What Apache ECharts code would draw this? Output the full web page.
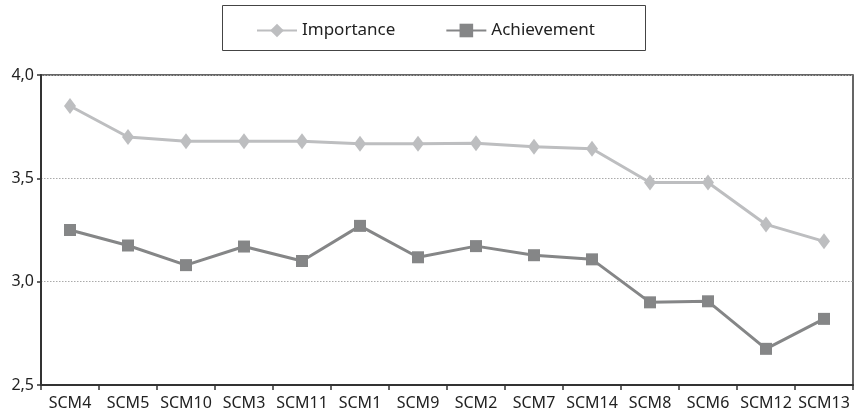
<!DOCTYPE html>
<html>
<head>
<meta charset="utf-8">
<script src="https://cdn.jsdelivr.net/npm/echarts@6/dist/echarts.min.js"></script>
<style>html,body{margin:0;padding:0;background:#fff}#c{width:859px;height:420px}</style>
</head>
<body>
<div id="c"></div>
<script>
const categories = ["SCM4","SCM5","SCM10","SCM3","SCM11","SCM1","SCM9","SCM2","SCM7","SCM14","SCM8","SCM6","SCM12","SCM13"];
const importance = [3.85,3.70,3.68,3.68,3.68,3.667,3.667,3.67,3.653,3.643,3.48,3.48,3.277,3.195];
const achievement = [3.25,3.175,3.08,3.17,3.10,3.27,3.118,3.172,3.128,3.108,2.90,2.905,2.675,2.82];
const yTicks = {min: 2.5, max: 4.0, interval: 0.5};

const chart = echarts.init(document.getElementById('c'), null, {renderer: 'canvas'});
const font = '"Noto Sans", "Open Sans", sans-serif';
chart.setOption({
  animation: false,
  textStyle: {fontFamily: font},
  graphic: [{
    type: 'rect', left: 222, top: 5, z: -1,
    shape: {width: 423, height: 45},
    style: {fill: '#fff', stroke: '#444', lineWidth: 1}
  }],
  legend: {
    left: 251, top: 17,
    itemWidth: 40, itemHeight: 17, itemGap: 50,
    textStyle: {fontFamily: font, fontSize: 17, color: '#222', padding: [0,0,0,0]},
    data: ['Importance', 'Achievement']
  },
  grid: {left: 41, right: 6, top: 75, bottom: 35, show: true, borderColor: '#333', borderWidth: 1.5, backgroundColor: 'transparent'},
  xAxis: {
    type: 'category', data: categories, boundaryGap: true,
    axisLine: {lineStyle: {color: '#333', width: 2}},
    axisTick: {show: true, alignWithLabel: false, length: 5, lineStyle: {color: '#333', width: 1.5}},
    axisLabel: {fontFamily: font, fontSize: 16, color: '#222', margin: 10, interval: 0}
  },
  yAxis: {
    type: 'value', min: yTicks.min, max: yTicks.max, interval: yTicks.interval,
    axisLine: {show: true, lineStyle: {color: '#333', width: 2}},
    axisTick: {show: true, length: 4, lineStyle: {color: '#333', width: 1.5}},
    axisLabel: {fontFamily: font, fontSize: 16, color: '#222', margin: 7,
      formatter: v => v.toFixed(1).replace('.', ',')},
    splitLine: {show: true, lineStyle: {color: '#aaa', type: [1.5, 1.5], width: 1}}
  },
  series: [
    {name: 'Importance', type: 'line', data: importance, symbol: 'diamond', symbolSize: [12, 16],
     lineStyle: {color: '#bdbec0', width: 3}, itemStyle: {color: '#bdbec0'}},
    {name: 'Achievement', type: 'line', data: achievement, symbol: 'rect', symbolSize: 12,
     lineStyle: {color: '#858687', width: 3}, itemStyle: {color: '#858687'}}
  ]
});
</script>
</body>
</html>
